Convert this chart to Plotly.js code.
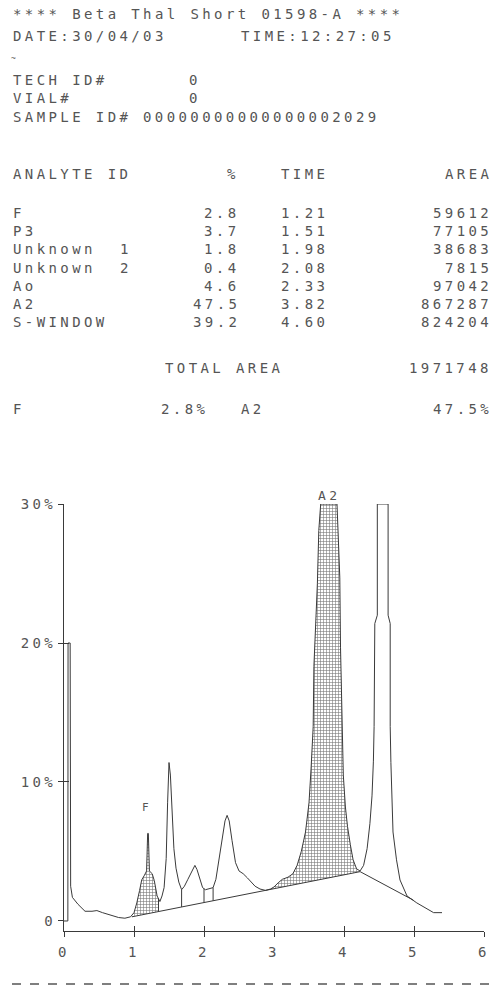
<!DOCTYPE html>
<html>
<head>
<meta charset="utf-8">
<script src="https://cdn.plot.ly/plotly-3.0.1.min.js"></script>
<style>
  html, body { margin: 0; padding: 0; background: #fff; }
  #chart { width: 492px; height: 987px; }
  text { letter-spacing: 3.4px; }
</style>
</head>
<body>
<div id="chart"></div>
<script>
// ---- report header ----
const reportTitle = "**** Beta Thal Short 01598-A ****";
const reportDate = "DATE:30/04/03";
const reportTime = "TIME:12:27:05";
const techId = "0";
const vialNo = "0";
const sampleId = "00000000000000002029";

// ---- results table ----
const analyteIds = ["F", "P3", "Unknown", "Unknown", "Ao", "A2", "S-WINDOW"];
const analyteNums = ["", "", "1", "2", "", "", ""];
const pctValues = ["2.8", "3.7", "1.8", "0.4", "4.6", "47.5", "39.2"];
const timeValues = ["1.21", "1.51", "1.98", "2.08", "2.33", "3.82", "4.60"];
const areaValues = ["59612", "77105", "38683", "7815", "97042", "867287", "824204"];
const totalArea = "1971748";
const summaryF = "2.8%";
const summaryA2 = "47.5%";

// ---- chromatogram (time in min, signal in %) ----
const times = [0,0.055,0.058,0.088,0.095, 0.12,0.2,0.3,0.4,0.47, 0.55,0.66,0.78,0.87,0.95,
  1.0,1.04,1.08,1.11,1.15, 1.18,1.195,1.205,1.22,1.26, 1.29,1.33,1.37,1.40,1.43,
  1.46,1.48,1.50,1.52,1.54, 1.57,1.60,1.64,1.68,1.72, 1.77,1.82,1.87,1.90,1.94,
  1.98,2.02,2.08,2.13,2.17, 2.21,2.26,2.30,2.33,2.36, 2.40,2.45,2.50,2.56,2.62,
  2.67,2.73,2.80,2.88,2.95, 3.0,3.06,3.12,3.20,3.27, 3.33,3.39,3.45,3.50,3.53,
  3.56,3.57,3.60,3.62,3.64, 3.667,3.90,3.94,3.95,3.97, 3.99,4.02,4.05,4.09,4.13,
  4.18,4.23,4.28,4.33,4.37, 4.40,4.42,4.43,4.44,4.476, 4.476,4.63,4.63,4.66,4.66,
  4.67,4.70,4.75,4.80,4.90, 5.04,5.18,5.28,5.40];
const signal = [0,0,20,20,2.5, 1.7,1.2,0.7,0.7,0.75, 0.6,0.45,0.25,0.2,0.3,
  0.6,1.3,2.2,2.95,3.3, 3.6,6.3,6.3,3.6,3.4, 2.9,1.8,1.4,1.8,2.4,
  4.5,8.5,11.4,10.5,8.0, 5.2,3.8,2.8,2.25,2.5, 3.0,3.5,4.0,3.7,3.1,
  2.4,2.25,2.35,2.4,3.0, 4.2,5.8,7.2,7.6,7.2, 5.8,4.2,3.6,3.4,3.1,
  2.8,2.5,2.3,2.2,2.3, 2.45,2.75,3.0,3.15,3.4, 4.0,5.0,6.4,8.5,11.0,
  14.0,18.3,21.4,24.3,28.1, 30,30,24.7,19.7,15.5, 10.5,8.2,6.8,5.5,4.4,
  3.75,3.6,4.0,5.2,7.0, 9.0,11.5,14.0,21.4,22.0, 30,30,22.0,21.4,14.0,
  11.4,6.4,4.4,2.95,1.8, 1.3,0.86,0.6,0.6];

// integration baseline and peak drop lines
const baselineT = [0.97, 4.23, 4.99];
const baselineY = [0.3, 3.55, 1.5];
const dropTimes = [1.35, 1.68, 2.0, 2.13];
// hatched (reported) peak windows
const hatchWindows = [[0.97, 1.35], [2.88, 4.23]];
// peak labels
const peakLabels = ["F", "A2"];
const peakLabelT = [1.18, 3.79];
const peakLabelY = [7.6, 30];

const xTicks = [0, 1, 2, 3, 4, 5, 6];
const yTicks = [0, 10, 20, 30];
const yTickText = ["0", "10%", "20%", "30%"];

// ---- helpers ----
function interp(xs, ys, t) {
  for (let i = 0; i < xs.length - 1; i++) {
    if (t >= xs[i] && t <= xs[i + 1]) {
      const d = xs[i + 1] - xs[i];
      return d === 0 ? ys[i] : ys[i] + (ys[i + 1] - ys[i]) * (t - xs[i]) / d;
    }
  }
  return ys[ys.length - 1];
}
function hatchPolygon(a, b) {
  const px = [a], py = [interp(times, signal, a)];
  for (let i = 0; i < times.length; i++) {
    if (times[i] > a && times[i] < b) { px.push(times[i]); py.push(signal[i]); }
  }
  px.push(b); py.push(interp(times, signal, b));
  px.push(b); py.push(interp(baselineT, baselineY, b));
  px.push(a); py.push(interp(baselineT, baselineY, a));
  px.push(a); py.push(interp(times, signal, a));
  return { px, py };
}

const INK = "#3a3a3a";
const TXT = "#555555";
const traces = [];
hatchWindows.forEach(w => {
  const p = hatchPolygon(w[0], w[1]);
  traces.push({
    x: p.px, y: p.py, type: "scatter", mode: "lines", fill: "toself",
    line: { width: 0, color: "rgba(0,0,0,0)" },
    fillcolor: "#ffffff",
    fillpattern: { shape: "+", size: 3, solidity: 0.35, fgcolor: "#777777", bgcolor: "#ffffff" },
    hoverinfo: "skip", showlegend: false, cliponaxis: false
  });
});
traces.push({
  x: baselineT, y: baselineY, type: "scatter", mode: "lines",
  line: { color: INK, width: 1 }, hoverinfo: "skip", showlegend: false
});
const dropX = [], dropY = [];
dropTimes.forEach(t => {
  dropX.push(t, t, null);
  dropY.push(interp(baselineT, baselineY, t), interp(times, signal, t), null);
});
traces.push({
  x: dropX, y: dropY, type: "scatter", mode: "lines",
  line: { color: INK, width: 1 }, hoverinfo: "skip", showlegend: false
});
traces.push({
  x: times, y: signal, type: "scatter", mode: "lines",
  line: { color: INK, width: 1 }, hoverinfo: "skip", showlegend: false, cliponaxis: false
});
traces.push({ x: [null], y: [null], xaxis: "x2", yaxis: "y2", type: "scatter", mode: "lines", showlegend: false, hoverinfo: "skip" });

// ---- layout geometry ----
const W = 492, H = 987, ML = 64, MR = 8, MT = 504, MB = 56;
const PW = W - ML - MR, PH = H - MT - MB;
function P(px, py) { return { x: (px - ML) / PW, y: (H - MB - py) / PH }; }
const FONT = "DejaVu Sans Mono, Liberation Mono, monospace";
const annotations = [];
function txt(s, px, py, anchor, size) {
  const p = P(px, py);
  annotations.push({
    text: s, x: p.x, y: p.y, xref: "paper", yref: "paper",
    xanchor: anchor || "left", yanchor: "middle", showarrow: false,
    font: { family: FONT, size: size || 14, color: TXT }, borderpad: 0
  });
}
txt(reportTitle, 12, 14);
txt(reportDate, 12, 36);
txt(reportTime, 240, 36);
txt("~", 10, 58, "left", 8);
txt("TECH ID#", 12, 80);
txt(techId, 195, 80, "center");
txt("VIAL#", 12, 98);
txt(vialNo, 195, 98, "center");
txt("SAMPLE ID#", 12, 117);
txt(sampleId, 142, 117);
txt("ANALYTE ID", 12, 174);
txt("%", 233, 174, "center");
txt("TIME", 280, 174);
txt("AREA", 493, 174, "right");
const rowY0 = 213, rowStep = 18.2;
analyteIds.forEach((id, i) => {
  const y = rowY0 + i * rowStep;
  txt(id, 12, y);
  if (analyteNums[i]) txt(analyteNums[i], 126, y, "center");
  txt(pctValues[i], 241, y, "right");
  txt(timeValues[i], 280, y);
  txt(areaValues[i], 493, y, "right");
});
txt("TOTAL AREA", 164, 368);
txt(totalArea, 493, 368, "right");
txt("F", 12, 409);
txt(summaryF, 160, 409);
txt("A2", 240, 409);
txt(summaryA2, 493, 409, "right");

peakLabels.forEach((lab, i) => {
  annotations.push({
    text: lab, x: peakLabelT[i], y: peakLabelY[i], xref: "x", yref: "y",
    xanchor: "center", yanchor: "bottom", showarrow: false, borderpad: 0,
    font: { family: FONT, size: i === 0 ? 11 : 13, color: TXT }
  });
});

const dashStart = P(12, 984), dashEnd = P(490, 984);
const layout = {
  width: W, height: H,
  margin: { l: ML, r: MR, t: MT, b: MB, pad: 0 },
  paper_bgcolor: "#ffffff", plot_bgcolor: "#ffffff",
  showlegend: false,
  xaxis: {
    range: [0, 6], tickvals: xTicks, ticktext: xTicks.map(String),
    ticks: "outside", ticklen: 5, tickwidth: 1, tickcolor: INK,
    showline: true, linecolor: INK, linewidth: 1, showgrid: false, zeroline: false,
    tickfont: { family: FONT, size: 14, color: TXT }, ticklabelstandoff: 3,
    fixedrange: true
  },
  xaxis2: {
    overlaying: "x", anchor: "y", side: "bottom",
    range: [0, 6], tickvals: xTicks.slice(1), ticks: "inside", ticklen: 5, tickwidth: 1,
    tickcolor: INK, showticklabels: false, showline: false, showgrid: false, zeroline: false
  },
  yaxis: {
    range: [-0.72, 30], tickvals: yTicks, ticktext: yTickText,
    ticks: "outside", ticklen: 5, tickwidth: 1, tickcolor: INK,
    showline: true, linecolor: INK, linewidth: 1, showgrid: false, zeroline: false,
    tickfont: { family: FONT, size: 14, color: TXT }, ticklabelstandoff: -1,
    fixedrange: true
  },
  yaxis2: {
    overlaying: "y", anchor: "x", side: "left",
    range: [-0.72, 30], tickvals: yTicks.slice(1), ticks: "inside", ticklen: 5, tickwidth: 1,
    tickcolor: INK, showticklabels: false, showline: false, showgrid: false, zeroline: false
  },
  annotations: annotations,
  shapes: [{
    type: "line", xref: "paper", yref: "paper",
    x0: dashStart.x, y0: dashStart.y, x1: dashEnd.x, y1: dashEnd.y,
    line: { color: TXT, width: 1.5, dash: "dash" }
  }]
};

Plotly.newPlot("chart", traces, layout, { staticPlot: true, displayModeBar: false });
</script>
</body>
</html>
